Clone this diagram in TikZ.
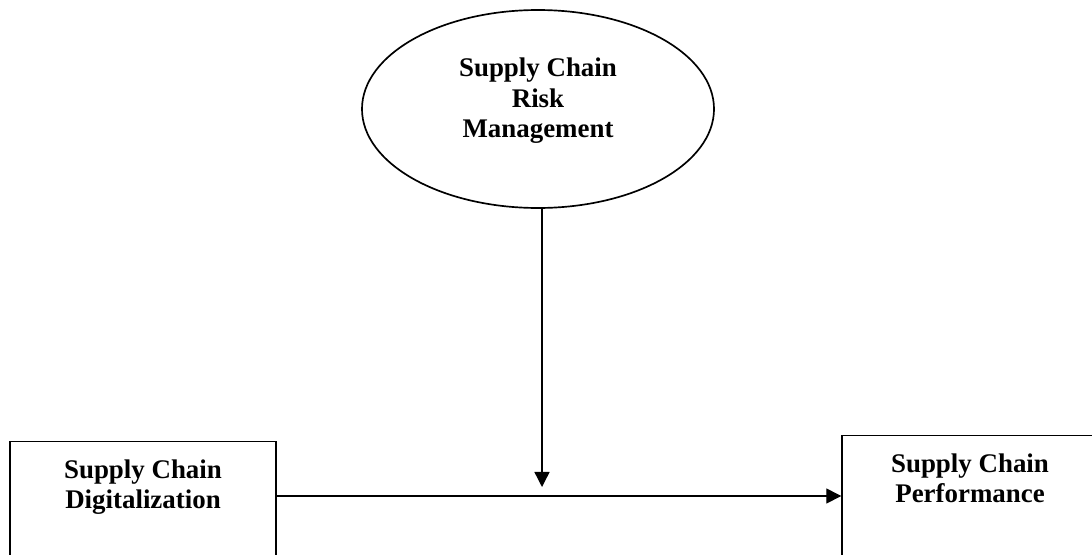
\documentclass[tikz,border=0pt]{standalone}
\usepackage{fontspec}
\setmainfont{Liberation Serif}
\usetikzlibrary{positioning}
\usetikzlibrary{arrows.meta}
\usetikzlibrary{shapes.geometric}
\definecolor{figBorde}{RGB}{0,0,0}
\tikzset{
  bloque/.style={
    rectangle, draw=figBorde, line width=0.6pt, anchor=north,
    align=center, font=\bfseries\fontsize{12}{13.5}\selectfont,
    inner xsep=4pt, inner ysep=8pt, text depth=40pt
  },
  elipse/.style={
    ellipse, draw=figBorde, line width=0.75pt,
    minimum width=157pt, minimum height=88.3pt,
    align=center, font=\bfseries\fontsize{12}{13.5}\selectfont,
    text depth=10pt
  },
  flecha/.style={-{Triangle[length=6.7pt, width=6.7pt]}, line width=0.6pt, draw=figBorde}
}
\begin{document}
\begin{tikzpicture}[x=0.446pt, y=-0.446pt]
  \clip (0,0) rectangle (1092,554);
  \node[elipse] (srm) at (538,109) {Supply Chain\\Risk\\Management};
  \node[bloque, minimum width=118.6pt] (scd) at (143,441)
    {Supply Chain\\Digitalization};
  \node[bloque, minimum width=114.2pt] (scp) at (970,435)
    {Supply Chain\\Performance};

  \coordinate (linea) at (542,496);
  \coordinate (punta) at (542,487);

  \draw[flecha] (scd.east |- linea) -- (scp.west |- linea);
  \draw[flecha] (srm.south -| punta) -- (punta);
\end{tikzpicture}
\end{document}
